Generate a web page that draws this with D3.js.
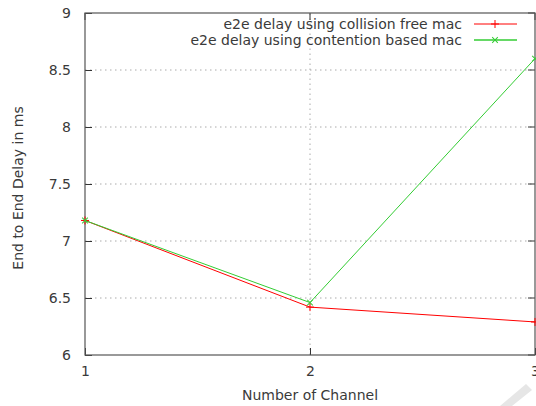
<!DOCTYPE html>
<html>
<head>
<meta charset="utf-8">
<script src="https://cdn.jsdelivr.net/npm/d3@7"></script>
<style>
  body { margin: 0; background: #fff; }
  text { font-family: "DejaVu Sans", sans-serif; fill: #3a3a3a; }
</style>
</head>
<body>
<div id="chart"></div>
<script>
// data
var channels = [1, 2, 3];
var collisionFree = [7.18, 6.42, 6.29];
var contention = [7.18, 6.46, 8.6];
var yTicks = [6, 6.5, 7, 7.5, 8, 8.5, 9];
var seriesNames = ["e2e delay using collision free mac", "e2e delay using contention based mac"];

var width = 536, height = 406;
var margin = {top: 13, right: 1, bottom: 51, left: 85};
var fs = 14;

var svg = d3.select("#chart").append("svg")
    .attr("width", width)
    .attr("height", height);

var x = d3.scaleLinear().domain([1, 3]).range([margin.left, width - margin.right]);
var y = d3.scaleLinear().domain([6, 9]).range([height - margin.bottom, margin.top]);

// grid
svg.append("g").selectAll("line")
    .data(yTicks.slice(1, -1))
    .enter().append("line")
    .attr("x1", x(1)).attr("x2", x(3))
    .attr("y1", function(d) { return y(d); })
    .attr("y2", function(d) { return y(d); })
    .attr("stroke", "#aaa").attr("stroke-dasharray", "1.5,3.5");

svg.append("line")
    .attr("x1", x(2)).attr("x2", x(2))
    .attr("y1", y(6)).attr("y2", y(9))
    .attr("stroke", "#aaa").attr("stroke-dasharray", "1.5,3.5");

// axes
var yAxis = d3.axisLeft(y).tickValues(yTicks).tickFormat(d3.format("~g")).tickSize(-7).tickPadding(14);
var yg = svg.append("g").attr("transform", "translate(" + x(1) + ",0)").call(yAxis);
var xAxis = d3.axisBottom(x).tickValues(channels).tickFormat(d3.format("d")).tickSize(-7).tickPadding(11);
var xg = svg.append("g").attr("transform", "translate(0," + y(6) + ")").call(xAxis);
[yg, xg].forEach(function(g) {
  g.select(".domain").remove();
  g.selectAll("line").attr("stroke", "#333");
  g.selectAll("text").attr("font-size", fs).attr("fill", "#3a3a3a")
    .attr("font-family", "DejaVu Sans, sans-serif");
});
yg.selectAll("text").attr("dy", "0.35em");

// mirrored ticks
svg.append("g").selectAll("line").data(yTicks).enter().append("line")
    .attr("x1", x(3)).attr("x2", x(3) - 7)
    .attr("y1", function(d) { return y(d); }).attr("y2", function(d) { return y(d); })
    .attr("stroke", "#333");
svg.append("g").selectAll("line").data(channels).enter().append("line")
    .attr("x1", function(d) { return x(d); }).attr("x2", function(d) { return x(d); })
    .attr("y1", y(9)).attr("y2", y(9) + 7)
    .attr("stroke", "#333");

// frame
svg.append("rect")
    .attr("x", x(1)).attr("y", y(9))
    .attr("width", x(3) - x(1)).attr("height", y(6) - y(9))
    .attr("fill", "none").attr("stroke", "#555").attr("stroke-width", 1.2);

// lines
var line = d3.line()
    .x(function(d, i) { return x(channels[i]); })
    .y(function(d) { return y(d); });

var colors = ["#ff0000", "#33cc33"];
var series = [collisionFree, contention];

series.forEach(function(s, k) {
  svg.append("path")
      .datum(s)
      .attr("d", line)
      .attr("fill", "none")
      .attr("stroke", colors[k])
      .attr("stroke-width", 1);
  svg.append("g").selectAll("path")
      .data(s).enter().append("path")
      .attr("transform", function(d, i) { return "translate(" + x(channels[i]) + "," + y(d) + ")" + (k ? " rotate(45)" : ""); })
      .attr("d", "M-4,0H4M0,-4V4")
      .attr("stroke", colors[k]).attr("stroke-width", 1);
});

// legend
var legend = svg.append("g");
seriesNames.forEach(function(name, k) {
  var ly = 24 + k * 16;
  legend.append("text")
      .attr("x", 462).attr("y", ly).attr("dy", "0.35em")
      .attr("text-anchor", "end").attr("font-size", fs)
      .text(name);
  legend.append("line")
      .attr("x1", 474).attr("x2", 517).attr("y1", ly).attr("y2", ly)
      .attr("stroke", colors[k]).attr("stroke-width", k ? 1.5 : 1);
  legend.append("path")
      .attr("transform", "translate(495," + ly + ")" + (k ? " rotate(45)" : ""))
      .attr("d", "M-4,0H4M0,-4V4")
      .attr("stroke", colors[k]);
});

// axis titles
svg.append("text")
    .attr("x", x(2)).attr("y", 395).attr("dy", "0.35em")
    .attr("text-anchor", "middle").attr("font-size", fs)
    .text("Number of Channel");

svg.append("text")
    .attr("transform", "translate(18,188) rotate(-90)")
    .attr("dy", "0.35em")
    .attr("text-anchor", "middle").attr("font-size", fs)
    .text("End to End Delay in ms");

// faint page-curl mark in the corner
svg.append("path")
    .attr("d", "M500,406L526,384L532,390L512,406Z")
    .attr("fill", "#e6e6e6");
</script>
</body>
</html>
